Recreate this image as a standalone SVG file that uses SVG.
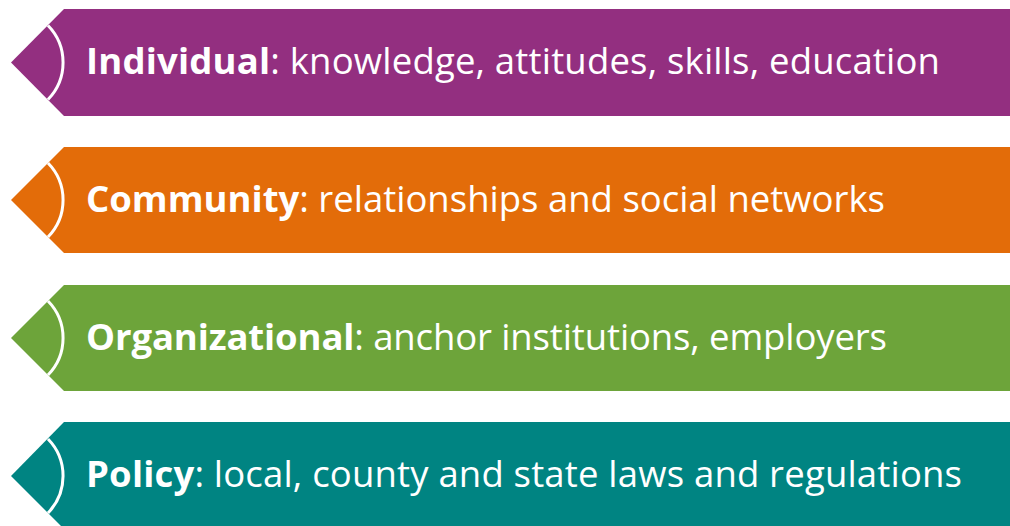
<svg xmlns="http://www.w3.org/2000/svg" width="1010" height="526" viewBox="0 0 1010 526">
  <style>
    .lbl { font-family: "Open Sans", "Liberation Sans", sans-serif; font-size: 36.5px; fill: #ffffff; }
    .b { font-weight: bold; }
    .arc { fill: none; stroke: #ffffff; stroke-width: 3; }
  </style>
  <rect width="1010" height="526" fill="#ffffff"/>
  <g id="individual">
    <polygon points="11,62.5 64,9 1010,9 1010,116 64,116" fill="#932F80"/>
    <path class="arc" d="M48,25.5 A53,53 0 0 1 48,99.5"/>
    <text class="lbl" x="86" y="74" textLength="854" lengthAdjust="spacing"><tspan class="b">Individual</tspan>: knowledge, attitudes, skills, education</text>
  </g>
  <g id="community">
    <polygon points="11,200 64,147 1010,147 1010,253 64,253" fill="#E36C09"/>
    <path class="arc" d="M48,163 A53,53 0 0 1 48,237"/>
    <text class="lbl" x="86" y="212" textLength="799" lengthAdjust="spacing"><tspan class="b">Community</tspan>: relationships and social networks</text>
  </g>
  <g id="organizational">
    <polygon points="11,338 64,285 1010,285 1010,391 64,391" fill="#6DA43A"/>
    <path class="arc" d="M48,301 A53,53 0 0 1 48,375"/>
    <text class="lbl" x="86" y="350" textLength="801" lengthAdjust="spacing"><tspan class="b">Organizational</tspan>: anchor institutions, employers</text>
  </g>
  <g id="policy">
    <polygon points="11,476 64,422 1010,422 1010,529 64,529" fill="#008482"/>
    <path class="arc" d="M48,439 A53,53 0 0 1 48,513"/>
    <text class="lbl" x="86" y="487" textLength="876" lengthAdjust="spacing"><tspan class="b">Policy</tspan>: local, county and state laws and regulations</text>
  </g>
  <g id="connectors"/>
</svg>
